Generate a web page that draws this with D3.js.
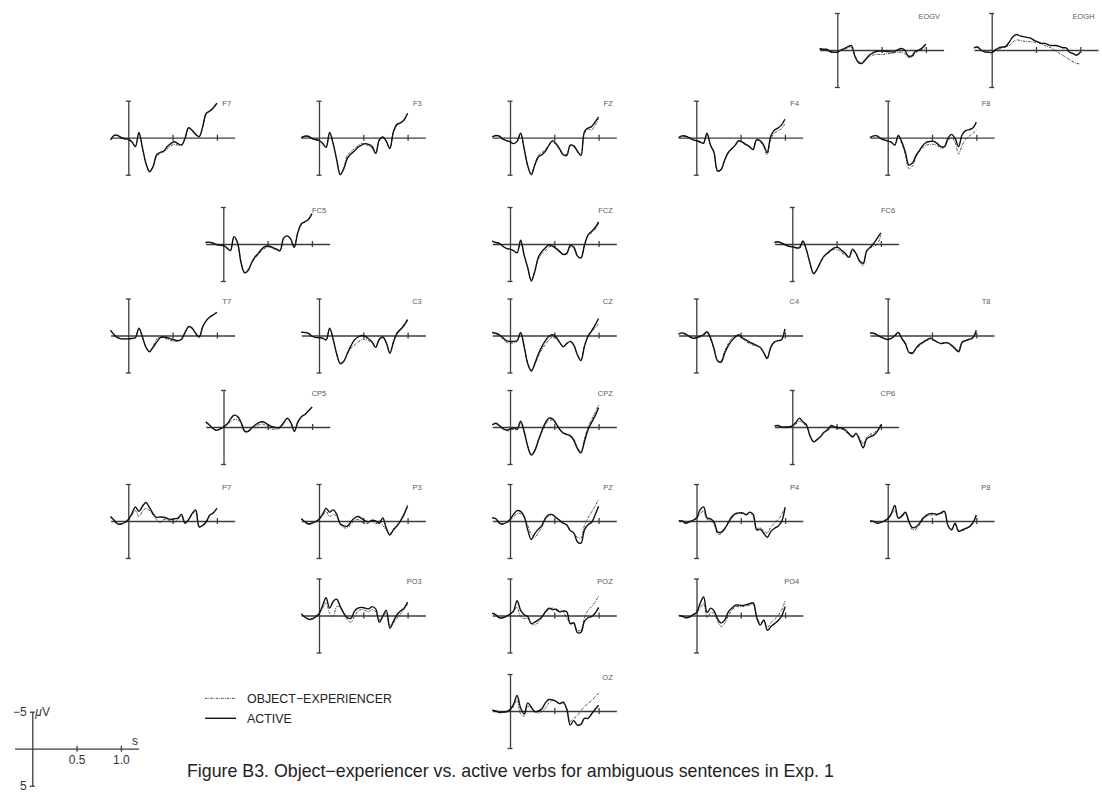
<!DOCTYPE html>
<html>
<head>
<meta charset="utf-8">
<script src="https://cdn.jsdelivr.net/npm/d3@7"></script>
<style>
  html, body { margin: 0; padding: 0; background: #fff; }
  svg { display: block; }
  text { font-family: "Liberation Sans", Arial, Helvetica, sans-serif; }
</style>
</head>
<body>
<svg id="chart" width="1102" height="802"></svg>
<script>
// ---------- DATA ----------
// sample times (s)
const times = [-0.20,-0.16,-0.12,-0.08,-0.04,0.00,0.04,0.08,0.12,0.16,0.20,0.24,0.28,0.32,0.36,0.40,0.44,0.48,0.52,0.56,0.60,0.64,0.68,0.72,0.76,0.80,0.84,0.88,0.92,0.96,1.00];

const channels = ["EOGV","EOGH","F7","F3","FZ","F4","F8","FC5","FCZ","FC6","T7","C3","CZ","C4","T8","CP5","CPZ","CP6","P7","P3","PZ","P4","P8","PO3","POZ","PO4","OZ"];

const seriesNames = ["OBJECT\u2212EXPERIENCER","ACTIVE"];

// amplitudes in µV (negative plotted up)
const EOGV_active = [-0.2,-0.1,-0.1,0.2,0.3,0.3,0.0,-0.2,-0.45,-0.6,0.9,1.7,1.8,1.3,0.7,0.4,0.2,0.15,0.15,0.2,0.25,0.25,0.0,-0.2,0.0,0.8,0.8,0.2,0.0,-0.3,-0.8];
const EOGV_objexp = [-0.1,0.0,0.1,0.3,0.35,0.3,0.1,-0.1,-0.3,-0.3,0.8,1.6,1.6,1.2,0.9,0.7,0.6,0.6,0.6,0.5,0.5,0.4,0.3,0.3,0.5,1.0,1.0,0.4,0.1,-0.1,-0.4];
const EOGH_active = [-0.3,-0.4,0.0,0.25,0.3,0.35,0.0,-0.3,-0.4,-0.5,-1.1,-1.8,-2.1,-1.9,-1.8,-1.7,-1.6,-1.3,-1.1,-0.9,-0.9,-0.7,-0.6,-0.6,-0.5,-0.3,-0.3,0.3,0.5,0.7,0.3];
const EOGH_objexp = [-0.3,-0.4,0.0,0.25,0.3,0.35,0.1,-0.1,-0.3,-0.4,-0.6,-1.1,-1.35,-1.3,-1.2,-1.15,-1.1,-1.05,-1.0,-0.8,-0.6,-0.45,-0.2,0.1,0.4,0.7,1.0,1.3,1.6,1.8,1.9];

const F7_active = [0.3,-0.3,-0.3,0,0.15,0.2,0.55,1.2,-0.7,1.4,3.5,4.6,3.9,2.3,2.0,1.8,1.2,0.8,0.55,0.8,1.0,0.1,-1.35,-1.0,-0.45,-0.15,-1.5,-3.3,-3.6,-4.05,-4.65];
const F7_objexp = [0.3,-0.3,-0.3,0,0.15,0.25,0.6,1.2,-0.6,1.4,3.5,4.5,3.8,2.5,2.1,1.9,1.5,1.1,0.9,1.0,1.0,0.1,-1.3,-1.0,-0.45,-0.1,-1.5,-3.2,-3.6,-4.0,-4.6];
const F3_active = [0,-0.2,-0.2,0.1,0.25,0.35,0.75,1.3,-0.7,0.8,3.0,5.0,4.2,2.8,2.2,1.8,1.3,1.0,0.8,0.9,1.2,2.1,0.3,-0.1,0.5,1.45,-0.8,-1.8,-2.0,-2.4,-3.3];
const F3_objexp = [0.05,-0.25,-0.1,0.15,0.3,0.4,0.8,1.3,-0.6,0.8,3.0,4.9,4.0,2.4,1.9,1.5,1.1,0.8,0.9,1.1,1.4,2.2,0.4,-0.1,0.5,1.4,-0.8,-1.7,-2.0,-2.4,-3.3];
const FZ_active = [-0.1,-0.3,-0.2,0.2,0.4,0.55,0.8,0.5,-0.6,1.5,3.8,5.0,3.7,2.6,2.3,1.8,1.0,0.4,0.8,1.5,2.3,2.4,1.0,1.1,1.8,2.4,-0.8,-1.3,-1.5,-2.1,-2.8];
const FZ_objexp = [-0.1,-0.3,-0.2,0.2,0.4,0.55,0.8,0.5,-0.5,1.5,3.7,4.9,3.6,2.4,2.0,1.6,1.0,0.6,1.0,1.6,2.3,2.2,1.1,1.2,1.9,2.3,-0.6,-1.2,-1.0,-1.7,-2.5];
const F4_active = [0.0,-0.25,-0.2,0.0,0.25,0.4,0.55,0.75,-0.6,1.0,2.0,4.5,4.3,3.0,2.0,1.5,1.0,0.4,0.6,0.9,1.2,1.6,0.3,0.4,1.0,2.0,-0.2,-1.0,-1.3,-1.7,-2.5];
const F4_objexp = [0.0,-0.2,-0.2,0.0,0.25,0.4,0.6,0.8,-0.5,1.0,2.0,4.5,4.3,3.1,2.1,1.5,1.0,0.5,0.7,1.0,1.2,1.6,0.3,0.5,1.2,2.3,0.2,-0.6,-0.9,-1.2,-1.9];
const F8_active = [0.0,-0.25,-0.25,0.1,0.3,0.45,0.6,1.0,-0.3,0.6,2.0,3.7,3.4,2.4,1.7,1.0,0.6,0.5,0.5,0.8,1.2,1.2,0.1,-0.45,0.1,1.2,-0.4,-0.95,-1.1,-1.3,-2.1];
const F8_objexp = [0.0,-0.25,-0.25,0.1,0.3,0.45,0.6,1.0,-0.2,0.8,2.3,4.2,3.8,2.6,1.8,1.3,1.0,0.9,0.9,1.1,1.4,1.3,0.4,0.0,0.6,2.2,1.0,0.2,-0.2,-0.6,-1.0];

const FC5_active = [-0.2,-0.25,-0.15,0.05,0.15,0.2,0.5,0.9,-1.0,-0.2,2.5,3.9,3.6,2.5,1.7,1.2,0.6,0.3,0.3,0.5,0.7,0.9,-0.8,-1.1,-0.7,0.45,-1.5,-2.7,-3.0,-3.3,-4.1];
const FC5_objexp = [-0.2,-0.2,-0.1,0.1,0.2,0.25,0.6,0.9,-0.9,-0.1,2.4,3.8,3.4,2.6,1.9,1.4,0.8,0.5,0.4,0.6,0.8,0.9,-0.7,-1.1,-0.7,0.4,-1.5,-2.6,-3.0,-3.3,-4.0];
const FCZ_active = [-0.4,-0.2,-0.1,0.3,0.6,0.7,0.9,1.2,-0.5,1.5,3.2,5.0,3.7,1.8,1.0,0.5,0.1,0.3,0.6,1.0,1.4,1.3,0.2,0.4,1.6,1.9,0.2,-1.2,-1.7,-2.2,-3.0];
const FCZ_objexp = [-0.4,-0.2,-0.1,0.3,0.6,0.7,0.9,1.1,-0.4,1.6,3.2,4.9,3.6,2.0,1.3,0.9,0.4,0.3,0.7,1.1,1.4,1.2,0.4,0.6,1.6,1.8,0.1,-1.1,-1.5,-2.0,-2.8];
const FC6_active = [-0.2,-0.3,-0.1,0.1,0.3,0.35,0.5,0.5,-0.4,0.8,2.6,4.0,3.4,2.4,1.6,1.2,0.8,0.5,0.5,0.9,1.3,1.8,0.7,1.3,2.3,2.6,0.9,0.45,-0.1,-0.8,-1.5];
const FC6_objexp = [-0.2,-0.3,-0.1,0.1,0.3,0.4,0.5,0.6,-0.3,0.9,2.6,3.9,3.4,2.5,1.7,1.3,0.9,0.7,0.8,1.2,1.5,1.8,0.9,1.4,2.4,2.9,1.0,0.5,0.3,0.0,-1.2];

const T7_active = [-0.7,-0.1,0.3,0.45,0.45,0.45,0.4,0.3,-1.0,0.2,1.6,2.2,1.6,0.9,0.3,0.2,0.3,0.45,0.6,0.7,0.5,-0.4,-1.2,-1.0,-0.3,0.2,-1.2,-2.0,-2.5,-2.8,-3.15];
const T7_objexp = [-0.7,-0.1,0.3,0.45,0.45,0.45,0.4,0.3,-0.9,0.3,1.6,2.1,1.4,0.5,0.2,0.3,0.5,0.7,0.8,0.7,0.5,-0.4,-1.1,-1.0,-0.3,0.2,-1.1,-2.0,-2.5,-2.8,-3.1];
const C3_active = [-0.45,-0.4,-0.3,0.1,0.25,0.3,0.35,0.6,-1.0,0.5,2.5,3.8,3.5,2.4,1.4,0.6,0.2,0.0,0.1,0.45,0.9,1.6,0.5,0.2,1.0,2.4,0.9,-0.3,-0.8,-1.35,-2.1];
const C3_objexp = [-0.45,-0.4,-0.3,0.1,0.25,0.3,0.35,0.6,-0.9,0.6,2.5,3.7,3.4,2.5,1.7,1.3,0.9,0.6,0.5,0.7,1.0,1.6,0.6,0.3,1.0,2.3,0.8,-0.4,-0.9,-1.5,-2.3];
const CZ_active = [-0.4,-0.3,-0.1,0.3,0.7,0.8,0.8,0.7,-0.4,1.5,3.8,4.8,3.8,2.5,1.5,0.7,0.1,-0.1,0.2,0.9,1.5,1.1,0.8,1.3,2.6,3.4,1.5,0.1,-0.6,-1.4,-2.3];
const CZ_objexp = [-0.4,-0.2,0.0,0.5,0.9,1.0,1.0,0.8,-0.3,1.6,3.7,4.7,3.9,2.8,1.9,1.2,0.6,0.2,0.4,1.0,1.5,1.1,0.8,1.3,2.5,3.3,1.3,0.2,-0.5,-1.0,-1.6];
const C4_active = [-0.2,-0.35,-0.2,0.1,0.35,0.3,0.1,-0.1,-0.5,0.3,1.8,3.4,3.6,2.4,1.4,0.7,0.2,-0.1,0.3,0.6,0.9,1.1,1.35,1.6,2.3,3.1,1.6,0.9,0.7,0.6,-0.9];
const C4_objexp = [-0.2,-0.3,-0.1,0.2,0.4,0.35,0.2,0.0,-0.3,0.5,1.9,3.4,3.4,2.1,1.1,0.4,0.0,0.0,0.4,0.8,1.1,1.3,1.4,1.6,2.3,3.0,1.6,0.9,0.7,0.6,-0.8];
const T8_active = [-0.35,-0.3,-0.1,0.2,0.4,0.55,0.4,0.0,-0.4,0.4,1.1,2.3,2.4,1.7,1.2,0.9,0.6,0.35,0.6,0.9,1.1,1.0,1.0,1.35,1.8,2.2,0.9,0.7,0.5,0.3,-0.7];
const T8_objexp = [-0.35,-0.3,-0.1,0.2,0.4,0.5,0.4,0.1,-0.3,0.5,1.2,2.2,2.3,1.8,1.4,1.0,0.7,0.5,0.7,0.9,1.0,1.0,1.0,1.2,1.6,2.0,0.9,0.7,0.6,0.4,-0.5];

const CP5_active = [-0.7,-0.3,0.2,0.45,0.3,0.0,-0.4,-1.1,-1.6,-1.4,-0.6,0.6,0.6,0.1,-0.3,-0.6,-0.7,-0.5,-0.2,0.0,0.1,0.0,-0.6,-1.2,-0.6,0.6,-0.7,-1.4,-1.7,-2.2,-2.7];
const CP5_objexp = [-0.6,-0.2,0.2,0.4,0.2,0.0,-0.3,-0.7,-1.0,-1.0,-0.4,0.5,0.5,0.2,-0.1,-0.3,-0.4,-0.2,0.1,0.3,0.3,0.1,-0.5,-1.1,-0.6,0.5,-0.7,-1.4,-1.7,-2.2,-2.7];
const CPZ_active = [-0.3,-0.5,-0.2,0.2,0.4,0.3,0.1,0.3,-0.8,0.6,2.6,3.8,3.2,1.8,0.5,-0.6,-1.2,-1.1,-0.5,0.3,0.8,1.0,1.2,1.8,2.9,3.5,2.0,0.4,-0.6,-1.5,-2.6];
const CPZ_objexp = [-0.3,-0.4,-0.1,0.3,0.5,0.5,0.3,0.4,-0.5,0.8,2.6,3.7,3.1,1.9,0.7,-0.3,-0.9,-0.9,-0.4,0.3,0.8,1.0,1.1,1.6,2.7,3.3,1.6,0.0,-1.0,-1.9,-3.0];
const CP6_active = [-0.15,-0.2,0.0,0.0,0.0,-0.15,-0.6,-1.2,-0.7,-0.3,1.2,2.0,1.7,1.3,0.7,0.4,-0.2,0.0,0.1,0.15,0.4,0.9,1.35,0.9,1.8,2.8,1.6,1.3,1.1,0.6,-0.3];
const CP6_objexp = [-0.15,-0.2,0.0,0.1,0.0,-0.1,-0.4,-0.8,-0.5,-0.1,1.2,1.9,1.7,1.2,0.6,0.2,-0.1,0.0,0.2,0.3,0.6,1.0,1.2,0.8,1.5,2.3,1.4,1.0,0.8,0.4,-0.2];

const P7_active = [-0.6,-0.1,0.4,0.4,0.2,-0.2,-1.0,-1.9,-1.3,-2.0,-2.5,-1.8,-1.0,-0.5,-0.55,-0.5,-0.35,-0.2,-0.3,-0.4,-0.9,0.3,-0.2,-1.0,-1.5,0.8,0.6,0.1,-0.8,-1.1,-1.7];
const P7_objexp = [-0.5,-0.1,0.4,0.4,0.2,-0.1,-0.8,-1.4,-0.6,-1.3,-1.7,-1.4,-0.8,-0.2,0.2,-0.2,-0.2,0.1,0.1,-0.2,-0.7,0.3,-0.1,-0.9,-1.3,0.7,0.6,0.1,-0.8,-1.1,-1.7];
const P3_active = [-0.3,0.1,0.4,0.3,0.1,-0.25,-0.9,-1.7,-1.2,-1.5,-0.9,0.4,0.65,0.7,0.1,-0.4,-0.6,-0.35,0.0,0.1,-0.1,0.0,0.3,-0.4,1.0,1.9,1.2,0.7,0.0,-0.9,-2.0];
const P3_objexp = [-0.3,0.1,0.4,0.3,0.1,-0.2,-0.7,-1.3,-0.6,-0.9,-0.6,0.4,0.9,0.9,0.5,-0.1,-0.2,0.1,0.3,0.3,0.0,0.4,0.0,0.6,1.2,1.7,1.1,0.5,-0.1,-1.0,-2.2];
const PZ_active = [-0.45,-0.3,0.3,0.4,0.2,-0.2,-0.9,-1.4,-1.3,-0.6,1.2,2.5,1.7,1.1,0.6,-0.4,-0.85,-0.85,-0.45,-0.1,0.3,0.5,1.3,1.6,2.8,3.0,1.2,0.5,0.2,-0.8,-2.0];
const PZ_objexp = [-0.4,-0.3,0.3,0.4,0.2,-0.1,-0.6,-1.0,-1.0,-0.5,0.6,1.8,2.2,1.6,0.8,-0.2,-0.7,-0.8,-0.5,-0.1,0.3,0.6,1.3,1.6,2.2,2.3,0.6,-0.4,-1.2,-2.0,-2.9];
const P4_active = [0.0,0.0,0.3,0.1,-0.1,-0.4,-1.5,-1.9,-0.4,-0.3,0.2,1.5,1.5,1.0,0.2,-0.6,-1.0,-1.1,-1.1,-0.85,-1.2,-0.9,1.2,1.1,1.7,2.2,1.4,1.0,0.7,0.1,-1.8];
const P4_objexp = [0.0,0.0,0.3,0.1,-0.1,-0.3,-1.0,-1.3,-0.2,-0.1,0.5,1.8,1.7,1.1,0.3,-0.4,-0.9,-1.0,-1.0,-0.8,-1.1,-0.6,1.0,0.9,1.4,1.6,0.8,0.3,-0.2,-0.8,-1.9];
const P8_active = [0.0,0.05,0.3,0.2,0.0,-0.3,-1.0,-2.1,-0.4,-0.7,-1.2,0.1,0.9,0.8,0.3,-0.4,-0.8,-1.0,-1.0,-0.9,-1.1,-1.3,0.6,1.2,0.3,1.4,1.2,1.0,0.8,0.3,-0.8];
const P8_objexp = [0.0,0.05,0.3,0.2,0.0,-0.2,-0.8,-1.5,-0.3,-0.5,-1.0,0.2,1.2,1.1,0.5,-0.2,-0.6,-0.8,-0.8,-0.8,-1.0,-1.1,0.5,1.1,0.5,1.2,1.3,1.1,0.7,0.2,-0.6];

const PO3_active = [-0.2,0.2,0.5,0.5,0.2,-0.2,-1.3,-2.4,-1.0,-1.9,-2.2,-1.2,-0.3,0.3,0.4,-0.6,-1.0,-1.1,-1.0,-0.9,-1.2,-0.9,0.9,0.1,-0.7,1.7,0.8,-0.1,-0.6,-1.0,-1.8];
const PO3_objexp = [-0.2,0.2,0.5,0.4,0.1,-0.3,-1.0,-1.7,-0.3,0.1,-1.2,-1.1,-0.3,0.6,0.9,0.1,-0.6,-0.8,-0.7,-0.5,-0.8,-0.5,0.6,0.1,-0.3,1.3,1.0,0.4,-0.2,-0.8,-1.5];
const POZ_active = [-0.3,-0.1,0.3,0.3,0.1,-0.2,-0.6,-2.0,-0.7,-0.1,0.15,1.1,0.9,0.6,0.2,-0.5,-1.0,-0.8,-0.85,-0.5,-0.6,-0.5,1.1,1.0,2.3,2.3,0.8,0.3,0.15,-0.3,-1.1];
const POZ_objexp = [-0.3,-0.1,0.3,0.3,0.1,-0.2,-0.6,-1.1,0.2,0.4,0.4,1.0,1.3,0.9,0.2,-0.4,-0.8,-1.0,-0.7,-0.5,-0.5,0.4,0.9,1.2,2.0,2.0,0.3,-0.7,-1.2,-1.8,-2.6];
const PO4_active = [0.0,0.1,0.3,0.2,-0.1,-0.4,-1.6,-2.5,-0.4,-1.0,-0.6,0.5,1.0,0.6,-0.5,-1.0,-1.4,-1.4,-1.35,-1.45,-1.6,-1.7,0.3,1.3,0.6,2.0,1.5,1.1,0.7,0.1,-1.2];
const PO4_objexp = [0.0,0.1,0.3,0.2,-0.1,-0.3,-1.0,-1.6,0.3,-0.4,-0.3,0.8,1.5,1.0,0.0,-0.7,-1.2,-1.2,-1.2,-1.3,-1.4,-1.5,0.2,1.0,0.8,1.6,1.0,0.5,0.0,-0.7,-2.0];
const OZ_active = [-0.1,0.0,0.2,0.15,0.1,-0.2,-0.9,-2.1,-0.4,0.4,-1.1,-0.5,0.1,0.0,-0.3,-1.1,-1.55,-1.5,-1.3,-1.0,-1.2,-0.3,1.9,1.3,1.9,1.8,1.0,1.0,0.4,-0.2,-0.8];
const OZ_objexp = [-0.1,0.0,0.2,0.15,0.1,-0.1,-0.6,-1.5,0.4,0.7,-0.6,-0.5,0.0,0.3,0.0,-0.4,-1.1,-1.4,-1.3,-1.0,-1.1,-0.3,1.4,1.0,0.6,0.0,-0.6,-1.0,-1.4,-1.9,-2.4];

// axis tick values
const timeTicks = [0.5, 1.0];
const ampTicks = [-5, 5];
const captionText = "Figure B3. Object\u2212experiencer vs. active verbs for ambiguous sentences in Exp. 1";

// ---------- LAYOUT (pixel origin of each panel: x of t=0, y of 0 µV) ----------
const layout = {
  EOGV:[837.3,50], EOGH:[991.7,50],
  F7:[128.3,137.7], F3:[319,137.7], FZ:[510,137.7], F4:[696.3,137.7], F8:[887.7,137.7],
  FC5:[223.3,244], FCZ:[510,244], FC6:[792.3,244],
  T7:[128.3,335.5], C3:[319,335.5], CZ:[510,335.5], C4:[696.3,335.5], T8:[887.7,335.5],
  CP5:[223.5,427], CPZ:[510,427], CP6:[792.3,427],
  P7:[128.3,521], P3:[319,521], PZ:[510,521], P4:[696.5,521], P8:[887.7,521],
  PO3:[319,615.5], POZ:[510,615.5], PO4:[696.5,615.5],
  OZ:[510,711]
};

const dataTable = {
  EOGV:[EOGV_objexp,EOGV_active], EOGH:[EOGH_objexp,EOGH_active],
  F7:[F7_objexp,F7_active], F3:[F3_objexp,F3_active], FZ:[FZ_objexp,FZ_active], F4:[F4_objexp,F4_active], F8:[F8_objexp,F8_active],
  FC5:[FC5_objexp,FC5_active], FCZ:[FCZ_objexp,FCZ_active], FC6:[FC6_objexp,FC6_active],
  T7:[T7_objexp,T7_active], C3:[C3_objexp,C3_active], CZ:[CZ_objexp,CZ_active], C4:[C4_objexp,C4_active], T8:[T8_objexp,T8_active],
  CP5:[CP5_objexp,CP5_active], CPZ:[CPZ_objexp,CPZ_active], CP6:[CP6_objexp,CP6_active],
  P7:[P7_objexp,P7_active], P3:[P3_objexp,P3_active], PZ:[PZ_objexp,PZ_active], P4:[P4_objexp,P4_active], P8:[P8_objexp,P8_active],
  PO3:[PO3_objexp,PO3_active], POZ:[POZ_objexp,POZ_active], PO4:[PO4_objexp,PO4_active],
  OZ:[OZ_objexp,OZ_active]
};

// ---------- STYLE ----------
const PX_PER_S = 88.6, HALF_H = 37;
const AXIS_COLOR = "#3c3c3c", AXIS_W = 1.3;
const seriesStyle = [
  {stroke:"#222", width:0.85, dash:"2.4,1.1,0.8,1.1"},
  {stroke:"#111", width:1.4, dash:null}
];

const svg = d3.select("#chart");
svg.append("rect").attr("width",1102).attr("height",802).attr("fill","#fff");

function makeScales(ox, oy) {
  const x = d3.scaleLinear().domain([-0.2, 1.2]).range([ox - 0.2*PX_PER_S, ox + 1.2*PX_PER_S]);
  const y = d3.scaleLinear().domain([-5, 5]).range([oy - HALF_H, oy + HALF_H]);
  return {x, y};
}

function drawAxes(g, x, y, withLabels) {
  const xa = g.append("g").attr("transform", `translate(0,${y(0)})`)
    .call(d3.axisBottom(x).tickValues(timeTicks).tickSizeInner(3).tickSizeOuter(0).tickPadding(4)
      .tickFormat(withLabels ? d3.format(".1f") : () => ""));
  xa.selectAll(".tick line").attr("y1", -3).attr("y2", 3);
  const ya = g.append("g").attr("transform", `translate(${x(0)},0)`)
    .call(d3.axisLeft(y).tickValues(ampTicks).tickSizeInner(2.5).tickSizeOuter(0).tickPadding(3)
      .tickFormat(withLabels ? d3.format("d") : () => ""));
  ya.selectAll(".tick line").attr("x1", 2.5).attr("x2", -2.5);
  [xa, ya].forEach(a => {
    a.select(".domain").attr("stroke", AXIS_COLOR).attr("stroke-width", AXIS_W);
    a.selectAll(".tick line").attr("stroke", AXIS_COLOR).attr("stroke-width", AXIS_W);
    a.selectAll("text").attr("font-family", "Liberation Sans, Arial, sans-serif")
      .attr("font-size", 12).attr("fill", "#333");
  });
  return {xa, ya};
}

channels.forEach(ch => {
  const [ox, oy] = layout[ch];
  const {x, y} = makeScales(ox, oy);
  const g = svg.append("g").attr("class", "panel");
  drawAxes(g, x, y, false);
  const line = d3.line().x((d, i) => x(times[i])).y(d => y(d)).curve(d3.curveCatmullRom.alpha(0.5));
  dataTable[ch].forEach((vals, si) => {
    const st = seriesStyle[si];
    g.append("path").datum(vals).attr("d", line).attr("fill", "none")
      .attr("stroke", st.stroke).attr("stroke-width", st.width)
      .attr("stroke-linejoin", "round")
      .attr("stroke-dasharray", st.dash);
  });
  g.append("text").attr("x", x(1.16)).attr("y", y(-4.25))
    .attr("text-anchor", "end").attr("font-size", 7.5).attr("fill", "#5a5a5a").text(ch);
});

// ---------- scale key (bottom-left) ----------
{
  const {x, y} = makeScales(32.3, 748.7);
  const g = svg.append("g");
  drawAxes(g, x, y, true);
  g.append("text").attr("x", x(0) + 3).attr("y", y(-5) + 4.5).attr("font-size", 12).attr("fill", "#333")
    .call(t => { t.append("tspan").attr("font-style", "italic").text("\u03bc"); t.append("tspan").text("V"); });
  g.append("text").attr("x", x(1.16)).attr("y", y(0) - 4).attr("text-anchor", "middle")
    .attr("font-size", 12).attr("fill", "#333").text("s");
}

// ---------- legend ----------
{
  const lg = svg.append("g");
  seriesNames.forEach((name, i) => {
    const yy = 698.3 + i * 20;
    const st = seriesStyle[i];
    lg.append("line").attr("x1", 205).attr("x2", 236).attr("y1", yy).attr("y2", yy)
      .attr("stroke", st.stroke).attr("stroke-width", st.width).attr("stroke-dasharray", st.dash);
    lg.append("text").attr("x", 247).attr("y", yy + 4.4).attr("font-size", 12.4).attr("fill", "#222").text(name);
  });
}

// ---------- caption ----------
svg.append("text").attr("x", 187).attr("y", 777).attr("font-size", 17.8).attr("fill", "#222").text(captionText);
</script>
</body>
</html>
